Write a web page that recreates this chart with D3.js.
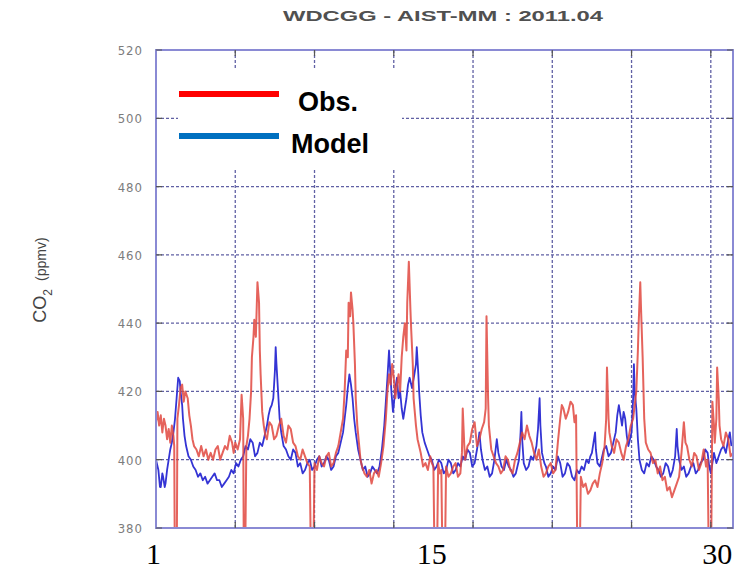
<!DOCTYPE html>
<html lang="en">
<head>
<meta charset="UTF-8">
<title>WDCGG - AIST-MM : 2011.04</title>
<script src="https://d3js.org/d3.v7.min.js"></script>
<style>
    body { margin: 0; background: #fff; }
    svg { display: block; }
    .ytick { font-family: "DejaVu Sans Condensed", "Liberation Sans", Arial, sans-serif; font-size: 13px; fill: #7c7c7c; letter-spacing: 1px; }
    .day { font-family: "Liberation Serif", "Times New Roman", serif; font-size: 30px; fill: #000; }
    .legend-text { font-family: "Liberation Sans", Arial, sans-serif; font-weight: bold; font-size: 27px; fill: #000; }
</style>
</head>
<body>
<svg width="749" height="569"></svg>
<script>
    const width = 749;
    const height = 569;

    // plot frame (pixels)
    const plotLeft = 156, plotRight = 733, plotTop = 50, plotBottom = 528;

    // y ticks (ppmv)
    const yTicks = [380, 400, 420, 440, 460, 480, 500, 520];
    // vertical grid every 100 hours
    const xGridHours = [100, 200, 300, 400, 500, 600, 700];
    // day labels under the axis
    const dayLabels = [1, 15, 30];

    // observed CO2, [hour of month, ppmv]  (values < 380 are gaps that run off the bottom)
    const obs = [
        [0,411],[2,414],[4,410],[6,413],[8,408],[10,412],[12,410],[14,406],[16,409],[18,405],[20,410],[22,407],[23,404],[24,360],[26,360],[27,412],
        [29,416],[31,421],[33,422],[35,417],[37,420],[40,418],[42,413],[44,410],[46,406],[48,404],[51,403],[54,401],[57,404],[60,401],[63,403],[66,400],[69,402],[72,400],
        [75,403],[78,404],[81,400],[84,402],[87,404],[90,403],[93,407],[96,405],[98,402],[100,405],[103,403],[106,406],[108,419],[110,412],[111,360],[112,360],
        [114,404],[116,407],[118,412],[120,420],[121,430],[123,436],[124,441],[126,436],[128,452],[130,446],[131,432],[132,425],[134,414],[136,410],[138,407],[140,406],
        [143,411],[146,410],[149,406],[152,407],[155,410],[158,412],[161,407],[164,405],[167,410],[170,409],[173,405],[176,404],[179,401],[182,400],[185,403],[188,401],[191,399],[194,398],[196,360],
        [198,360],[200,399],[203,397],[206,401],[209,399],[212,398],[215,401],[218,402],[221,398],[224,399],[227,402],[230,404],[233,408],[236,412],[238,420],[240,432],[242,430],[243,446],
        [245,442],[246,449],[248,444],[249,440],[251,428],[252,418],[254,410],[256,405],[258,400],[260,398],[263,396],[266,395],[269,397],[272,393],[275,396],[278,397],[281,395],[284,399],[287,404],[290,412],
        [292,420],[294,425],[296,422],[298,428],[300,424],[302,418],[304,422],[306,425],[308,420],[310,430],[312,436],[314,440],[316,432],[317,446],[319,458],[321,444],[322,438],[324,428],[325,418],
        [328,410],[330,406],[332,404],[334,402],[337,398],[340,399],[343,397],[346,401],[348,399],[350,398],[352,360],[354,360],[356,399],[358,396],[360,397],[362,360],
        [364,360],[366,398],[369,395],[372,396],[375,398],[378,399],[381,395],[384,396],[386,402],[387,415],[389,404],[390,400],[393,404],[396,405],[399,409],[402,411],[405,404],[408,406],
        [411,409],[414,411],[416,415],[417,442],[419,418],[420,410],[423,403],[426,401],[429,399],[432,398],[435,396],[438,397],[441,401],[444,400],[447,397],[450,396],[453,400],[456,402],[459,405],[462,408],
        [465,406],[468,410],[471,407],[474,405],[477,402],[480,400],[483,403],[486,398],[489,395],[492,396],[495,398],[498,399],[501,396],[504,397],[507,405],[510,412],[512,416],[514,415],[517,412],[520,414],
        [523,417],[526,416],[528,411],[530,413],[532,360],[534,360],[536,395],[539,392],[542,393],[545,390],[548,391],[551,393],[554,394],[557,392],[560,396],[563,399],[566,404],
        [568,412],[569,427],[571,412],[572,408],[575,404],[578,402],[581,406],[584,405],[587,402],[590,400],[593,404],[596,406],[599,410],[602,412],[604,416],[606,420],[608,432],[609,440],[611,452],
        [612,444],[614,430],[616,412],[618,405],[621,403],[624,402],[627,399],[630,400],[633,396],[636,398],[639,394],[642,395],[645,391],[648,392],[651,389],[654,391],[657,393],[660,395],[663,402],[666,411],
        [668,405],[670,404],[673,400],[676,398],[679,402],[682,401],[685,397],[688,399],[691,403],[694,398],[696,400],[698,360],[700,360],[702,417],[704,410],[705,405],[707,412],[708,427],
        [710,418],[711,410],[713,406],[716,404],[719,408],[722,406],[725,401],[728,402]
    ];

    // model CO2, [hour of month, ppmv]
    const model = [
        [0,400],[3,397],[5,392],[6,392],[8,396],[9,395],[11,392],[12,393],[14,397],[16,400],[18,403],[20,405],[22,408],[24,412],[26,418],[28,424],[30,423],[31,420],
        [33,416],[34,412],[36,407],[38,404],[41,401],[44,400],[47,398],[50,397],[53,395],[56,396],[59,394],[62,395],[65,393],[68,394],[71,395],[74,396],[77,394],[80,394],[83,392],[86,393],
        [89,394],[92,395],[95,397],[98,396],[101,399],[104,398],[107,400],[110,401],[113,404],[116,403],[119,406],[122,405],[125,401],[128,402],[131,405],[134,404],[137,407],[140,410],[142,413],[144,415],
        [146,416],[148,418],[150,426],[151,433],[152,428],[154,420],[156,412],[158,408],[161,404],[164,403],[167,401],[170,400],[173,403],[176,402],[179,398],[182,399],[185,396],[188,397],[191,399],[194,400],
        [197,397],[200,398],[203,400],[206,401],[209,398],[212,399],[215,401],[218,400],[221,397],[224,398],[227,401],[230,402],[233,405],[236,408],[238,412],[240,416],[242,421],[244,425],[246,422],[248,418],
        [250,412],[252,408],[255,403],[258,400],[261,397],[264,398],[267,395],[270,396],[273,398],[276,397],[279,396],[282,398],[285,403],[288,410],[290,417],[292,424],[294,432],[296,424],[297,420],
        [299,414],[300,416],[302,421],[304,424],[306,418],[308,420],[310,415],[312,412],[314,415],[316,418],[318,422],[320,424],[323,421],[326,425],[328,428],[329,433],[331,425],[332,420],[334,413],[336,408],
        [339,405],[342,403],[345,401],[348,400],[351,397],[354,398],[357,400],[360,399],[363,396],[366,397],[369,400],[372,399],[375,396],[378,397],[381,399],[384,398],[387,401],[390,400],[393,403],[396,402],
        [399,398],[402,399],[405,403],[407,406],[408,408],[410,403],[412,400],[415,397],[418,398],[421,395],[424,396],[427,400],[430,406],[432,402],[436,398],[439,397],[442,400],[445,398],[448,397],[451,395],[454,396],
        [456,398],[458,400],[460,408],[461,414],[462,406],[464,399],[467,397],[470,398],[473,401],[476,400],[478,402],[480,404],[482,409],[484,418],[485,410],[487,402],[490,399],[492,398],[495,395],[498,396],
        [501,398],[504,397],[507,401],[510,399],[513,395],[516,396],[519,399],[522,398],[525,395],[528,394],[531,397],[534,396],[537,398],[540,397],[543,400],[546,399],[548,401],[550,402],[552,405],[554,408],
        [555,403],[557,399],[560,398],[562,400],[565,403],[568,404],[571,401],[574,402],[577,405],[580,408],[582,413],[584,416],[586,413],[588,410],[590,414],[592,412],[594,407],[596,404],[598,406],[600,408],
        [602,418],[603,428],[604,420],[606,415],[608,406],[610,400],[613,397],[616,396],[619,399],[622,398],[625,401],[628,400],[631,398],[634,397],[637,395],[640,396],[643,399],[646,398],[649,395],[652,397],
        [655,401],[657,409],[658,404],[660,400],[663,397],[666,398],[669,395],[672,396],[675,398],[678,399],[681,396],[684,397],[687,399],[690,400],[693,403],[696,402],[698,398],[700,396],[702,399],[704,402],
        [707,399],[710,401],[713,403],[716,404],[719,402],[722,406],[724,408],[726,404]
    ];

    const svg = d3.select("svg");

    const x = d3.scaleLinear().domain([0, 728]).range([plotLeft, plotRight]);
    const y = d3.scaleLinear().domain([380, 520]).range([plotBottom, plotTop]);

    svg.append("defs").append("clipPath").attr("id", "plot")
        .append("rect")
        .attr("x", plotLeft).attr("y", plotTop)
        .attr("width", plotRight - plotLeft).attr("height", plotBottom - plotTop);

    // grid
    svg.selectAll(".hgrid")
        .data(yTicks.filter(d => d > 380 && d < 520))
        .enter().append("line")
        .attr("x1", plotLeft).attr("x2", plotRight)
        .attr("y1", d => y(d)).attr("y2", d => y(d))
        .attr("stroke", "#6060a4").attr("stroke-width", 1.3)
        .attr("stroke-dasharray", "3,2");

    svg.selectAll(".vgrid")
        .data(xGridHours)
        .enter().append("line")
        .attr("x1", d => x(d)).attr("x2", d => x(d))
        .attr("y1", plotTop).attr("y2", plotBottom)
        .attr("stroke", "#6060a4").attr("stroke-width", 1.3)
        .attr("stroke-dasharray", "3,2");

    // series
    const line = d3.line().x(d => x(d[0])).y(d => y(d[1]));
    const plot = svg.append("g").attr("clip-path", "url(#plot)");

    plot.append("path")
        .datum(model)
        .attr("fill", "none")
        .attr("stroke", "#3434d4")
        .attr("stroke-width", 1.8)
        .attr("stroke-linejoin", "round")
        .attr("d", line);

    plot.append("path")
        .datum(obs)
        .attr("fill", "none")
        .attr("stroke", "#e04840")
        .attr("stroke-width", 2)
        .attr("stroke-linejoin", "round")
        .attr("stroke-opacity", 0.85)
        .attr("d", line);

    // frame
    svg.append("rect")
        .attr("x", plotLeft).attr("y", plotTop)
        .attr("width", plotRight - plotLeft).attr("height", plotBottom - plotTop)
        .attr("fill", "none")
        .attr("stroke", "#8a8ad4").attr("stroke-width", 2);

    // tick marks
    svg.selectAll(".ytl")
        .data(yTicks)
        .enter().append("path")
        .attr("d", d => `M${plotLeft},${y(d)}h6M${plotRight},${y(d)}h-6`)
        .attr("stroke", "#555").attr("stroke-width", 1.2);

    svg.selectAll(".xtl")
        .data(xGridHours)
        .enter().append("path")
        .attr("d", d => `M${x(d)},${plotTop}v6M${x(d)},${plotBottom}v-6`)
        .attr("stroke", "#555").attr("stroke-width", 1.2);

    // y tick labels
    svg.selectAll(".ytick")
        .data(yTicks)
        .enter().append("text")
        .attr("class", "ytick")
        .attr("x", 143)
        .attr("y", d => y(d) + 5)
        .attr("text-anchor", "end")
        .text(d => d);

    // y axis title
    const yTitle = svg.append("text")
        .attr("transform", "translate(46,280) rotate(-90)")
        .attr("text-anchor", "middle")
        .attr("font-family", "Liberation Sans, Arial, sans-serif")
        .attr("fill", "#444");
    yTitle.append("tspan").attr("font-size", 18).text("CO");
    yTitle.append("tspan").attr("font-size", 12).attr("dy", 6).text("2");
    yTitle.append("tspan").attr("font-size", 14).attr("dy", -6).attr("dx", 8).text("(ppmv)");

    // title
    svg.append("text")
        .attr("x", 283).attr("y", 21)
        .attr("textLength", 320).attr("lengthAdjust", "spacingAndGlyphs")
        .attr("font-family", "Liberation Sans, Arial, sans-serif")
        .attr("font-size", 14)
        .attr("font-weight", "bold")
        .attr("fill", "#505050")
        .text("WDCGG - AIST-MM : 2011.04");

    // day labels
    svg.selectAll(".day")
        .data(dayLabels)
        .enter().append("text")
        .attr("class", "day")
        .attr("x", d => x((d - 0.5) * 24))
        .attr("dx", (d, i) => i === 0 ? -12 : 0)
        .attr("y", 564)
        .attr("text-anchor", "middle")
        .text(d => d);

    // legend
    const legend = svg.append("g");
    legend.append("rect")
        .attr("x", 178).attr("y", 70)
        .attr("width", 224).attr("height", 98)
        .attr("fill", "#fff");
    const legendItems = [
        {name: "Obs.", color: "#ff0000"},
        {name: "Model", color: "#0070c0"}
    ];
    legendItems.forEach((it, i) => {
        const ly = 94 + i * 42;
        legend.append("line")
            .attr("x1", 179).attr("x2", 279)
            .attr("y1", ly).attr("y2", ly)
            .attr("stroke", it.color).attr("stroke-width", 6);
        legend.append("text")
            .attr("class", "legend-text")
            .attr("x", i === 0 ? 298 : 291)
            .attr("y", ly + 17)
            .attr("font-size", i === 0 ? 27 : 28)
            .text(it.name);
    });
</script>
</body>
</html>
